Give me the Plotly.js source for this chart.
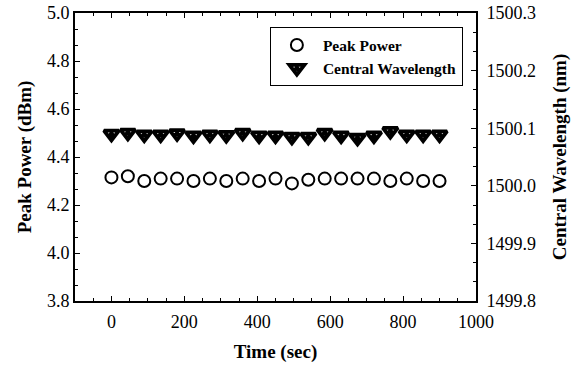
<!DOCTYPE html>
<html><head><meta charset="utf-8">
<script src="https://cdn.plot.ly/plotly-3.0.1.min.js"></script>
<style>body{margin:0;background:#fff}#chart{width:577px;height:368px}</style>
</head><body><div id="chart"></div>
<script>
const timeSec = [0,45,90,135,180,225,270,315,360,405,450,495,540,585,630,675,720,765,810,855,900];
const peakPower = [4.315,4.32,4.30,4.31,4.31,4.30,4.31,4.30,4.31,4.30,4.31,4.29,4.305,4.31,4.31,4.31,4.31,4.30,4.31,4.30,4.30];
const centralWl = [1500.090,1500.092,1500.089,1500.089,1500.091,1500.087,1500.089,1500.088,1500.092,1500.087,1500.087,1500.085,1500.085,1500.092,1500.087,1500.083,1500.087,1500.095,1500.089,1500.089,1500.089];
const seriesNames = ["Peak Power","Central Wavelength"];

const F = "Liberation Serif";
const traces = [
  {x: timeSec, y: peakPower, name: seriesNames[0], mode: "markers", type: "scatter",
   marker: {symbol: "circle-open", size: 12, color: "#000", line: {width: 2, color: "#000"}}},
  {x: timeSec, y: centralWl, name: seriesNames[1], mode: "markers", type: "scatter", yaxis: "y2",
   marker: {symbol: "triangle-down-dot", size: 13, color: "#fff", line: {width: 3.8, color: "#000"}}}
];
const axCommon = {showgrid: false, zeroline: false, showline: true, linecolor: "#000", linewidth: 2,
  ticks: "inside", ticklen: 5, tickwidth: 1, tickcolor: "#000",
  tickfont: {family: F, size: 18, color: "#000"}};
const titleFont = {family: F, size: 19, weight: "bold", color: "#000"};
const layout = {
  width: 577, height: 368,
  margin: {l: 75, r: 101, t: 13, b: 67},
  paper_bgcolor: "#fff", plot_bgcolor: "#fff",
  font: {family: F, color: "#000"},
  showlegend: true,
  legend: {x: 0.486, y: 0.95, xanchor: "left", yanchor: "top", bordercolor: "#000", borderwidth: 1,
    bgcolor: "#fff", itemwidth: 42, font: {family: F, size: 15.5, weight: "bold", color: "#000"}, tracegroupgap: 0},
  xaxis: Object.assign({}, axCommon, {range: [-100, 1000], tickvals: [0,200,400,600,800,1000], mirror: "ticks",
    ticklabelstandoff: 3,
    minor: {dtick: 50, tick0: 0, ticks: "inside", ticklen: 3, tickcolor: "#000"},
    title: {text: "Time (sec)", font: titleFont, standoff: 14}}),
  yaxis: Object.assign({}, axCommon, {range: [3.8, 5.0], dtick: 0.2, tick0: 3.8, tickformat: ".1f",
    minor: {dtick: 0.2/3, tick0: 3.8, ticks: "inside", ticklen: 3, tickcolor: "#000"},
    title: {text: "Peak Power (dBm)", font: titleFont, standoff: 10}}),
  yaxis2: Object.assign({}, axCommon, {overlaying: "y", side: "right", range: [1499.8, 1500.3], dtick: 0.1, tick0: 1499.8,
    tickformat: ".1f", ticklabelstandoff: 5,
    minor: {dtick: 0.1/3, tick0: 1499.8, ticks: "inside", ticklen: 3, tickcolor: "#000"},
    title: {text: "Central Wavelength (nm)", font: titleFont, standoff: 18}})
};
Plotly.newPlot("chart", traces, layout, {displayModeBar: false, staticPlot: true});
</script></body></html>
